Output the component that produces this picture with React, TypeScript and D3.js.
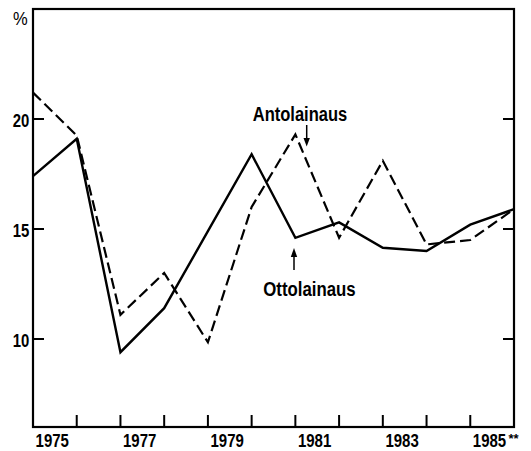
import React from "react";
import * as d3 from "d3";

const years = [1975, 1976, 1977, 1978, 1979, 1980, 1981, 1982, 1983, 1984, 1985, 1986];
const ottolainaus = [17.4, 19.1, 9.4, 11.4, 14.9, 18.4, 14.6, 15.3, 14.15, 14.0, 15.2, 15.9];
const antolainaus = [21.2, 19.25, 11.1, 13.0, 9.85, 16.0, 19.3, 14.6, 18.1, 14.3, 14.5, 15.9];
const yTicks = [10, 15, 20];
const xLabels = ["1975", "1977", "1979", "1981", "1983", "1985"];

const W = 531, H = 451;
const left = 33, right = 514, top = 9, bottom = 427;
const FONT = "'Liberation Sans', Arial, sans-serif";

export default function App() {
  const x = d3.scaleLinear().domain([0, years.length - 1]).range([left, right]);
  const y = d3.scaleLinear().domain([6, 25]).range([bottom, top]);
  const line = d3.line<number>().x((_, i) => x(i)).y((d) => y(d));

  return (
    <svg width={W} height={H} style={{ position: "absolute", left: 0, top: 0, background: "#fff" }}>
      <rect x={0} y={0} width={W} height={H} fill="#fff" />
      {/* frame */}
      <rect x={left} y={top} width={right - left} height={bottom - top} fill="none" stroke="#000" strokeWidth={2.2} />
      {/* y ticks */}
      {yTicks.map((t) => (
        <g key={t}>
          <line x1={left} x2={left + 11} y1={y(t)} y2={y(t)} stroke="#000" strokeWidth={2} />
          <line x1={right - 11} x2={right} y1={y(t)} y2={y(t)} stroke="#000" strokeWidth={2} />
          <text x={12.7} y={y(t) + 7.5} textLength={16.6} lengthAdjust="spacingAndGlyphs" fontFamily={FONT} fontWeight="bold" fontSize={19} fill="#000">
            {t}
          </text>
        </g>
      ))}
      <text x={13} y={25} textLength={14.7} lengthAdjust="spacingAndGlyphs" fontFamily={FONT} fontSize={18} fill="#000">%</text>
      {/* x ticks */}
      {years.slice(1, -1).map((yr, i) => (
        <line key={yr} x1={x(i + 1)} x2={x(i + 1)} y1={bottom} y2={bottom - 12} stroke="#000" strokeWidth={2} />
      ))}
      {xLabels.map((lab, k) => (
        <g key={lab} transform={`translate(${x(k * 2 + 0.44)},446.5) scale(1,1.2)`}>
          <text x={0} y={0} textAnchor="middle" fontFamily={FONT} fontWeight="bold" fontSize={15} fill="#000">
            {lab}
          </text>
        </g>
      ))}
      <text x={x(10.44) + 19} y={443} fontFamily={FONT} fontWeight="bold" fontSize={13} fill="#000">**</text>
      {/* series */}
      <path d={line(antolainaus) ?? ""} fill="none" stroke="#000" strokeWidth={2.2} strokeDasharray="11,5" strokeLinejoin="miter" />
      <path d={line(ottolainaus) ?? ""} fill="none" stroke="#000" strokeWidth={2.4} strokeLinejoin="miter" />
      {/* labels */}
      <text x={252.7} y={120.7} textLength={94.6} lengthAdjust="spacingAndGlyphs" fontFamily={FONT} fontWeight="bold" fontSize={19.5} fill="#000">Antolainaus</text>
      <line x1={306.7} x2={306.7} y1={125} y2={140} stroke="#000" strokeWidth={1.5} />
      <path d="M303.5,138 L309.9,138 L306.7,146.5 Z" fill="#000" />
      <text x={263.3} y={296.3} textLength={92.4} lengthAdjust="spacingAndGlyphs" fontFamily={FONT} fontWeight="bold" fontSize={19.5} fill="#000">Ottolainaus</text>
      <line x1={294} x2={294} y1={255} y2={270} stroke="#000" strokeWidth={1.5} />
      <path d="M290.8,257 L297.2,257 L294,248 Z" fill="#000" />
    </svg>
  );
}
